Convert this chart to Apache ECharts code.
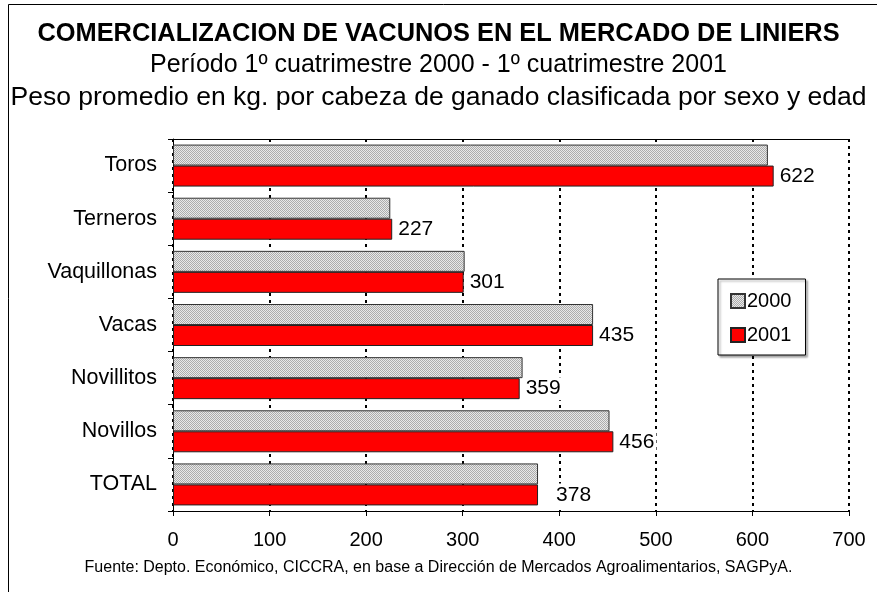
<!DOCTYPE html>
<html>
<head>
<meta charset="utf-8">
<script src="https://cdn.jsdelivr.net/npm/echarts@6/dist/echarts.min.js"></script>
<style>
html,body{margin:0;padding:0;background:#fff;}
#c{width:877px;height:592px;}
</style>
</head>
<body>
<div id="c"></div>
<script>
const categories = ['Toros','Terneros','Vaquillonas','Vacas','Novillitos','Novillos','TOTAL'];
const values2000 = [616, 225, 302, 435, 362, 452, 378];
const values2001 = [622, 227, 301, 435, 359, 456, 378];
const xTicks = [0, 100, 200, 300, 400, 500, 600, 700];
const seriesNames = ['2000', '2001'];

const titleText = 'COMERCIALIZACION DE VACUNOS EN EL MERCADO DE LINIERS';
const subtitle1 = 'Período 1º cuatrimestre 2000 - 1º cuatrimestre 2001';
const subtitle2 = 'Peso promedio en kg. por cabeza de ganado clasificada por sexo y edad';
const sourceText = 'Fuente: Depto. Económico, CICCRA, en base a Dirección de Mercados Agroalimentarios, SAGPyA.';

// hatch pattern for the 2000 series
const pc = document.createElement('canvas');
pc.width = 2; pc.height = 2;
const pctx = pc.getContext('2d');
pctx.fillStyle = '#e8e8e8'; pctx.fillRect(0,0,2,2);
pctx.fillStyle = '#acacac'; pctx.fillRect(0,0,1,1); pctx.fillRect(1,1,1,1);
const hatch = {image: pc, repeat: 'repeat'};

const FONT = '"Liberation Sans", Arial, sans-serif';
const chart = echarts.init(document.getElementById('c'), null, {renderer: 'canvas'});

const lastIdx = categories.length - 1;
const data2001 = values2001.map((v, i) => i === lastIdx ? {value: v, label: {distance: 16}} : v);

chart.setOption({
  backgroundColor: '#fff',
  animation: false,
  textStyle: {fontFamily: FONT, color: '#000'},
  title: [
    {text: titleText, left: 'center', top: 16, textStyle: {fontFamily: FONT, fontSize: 25.4, fontWeight: 'bold', color: '#000'}},
    {text: subtitle1, left: 'center', top: 48, textStyle: {fontFamily: FONT, fontSize: 25, fontWeight: 'normal', color: '#000'}},
    {text: subtitle2, left: 'center', top: 79, textStyle: {fontFamily: FONT, fontSize: 26.5, fontWeight: 'normal', color: '#000'}},
    {text: sourceText, left: 'center', top: 555, textStyle: {fontFamily: FONT, fontSize: 16, fontWeight: 'normal', color: '#000'}}
  ],
  graphic: [
    {type: 'rect', shape: {x: 8.5, y: 4.5, width: 900, height: 620}, style: {fill: 'none', stroke: '#000', lineWidth: 1}, silent: true, z: -1}
  ],
  legend: {
    data: seriesNames,
    orient: 'vertical',
    left: 718, top: 279,
    padding: [12, 14, 10, 12],
    itemWidth: 14, itemHeight: 14, itemGap: 14,
    backgroundColor: '#fff',
    borderColor: '#000', borderWidth: 1,
    shadowColor: 'rgba(0,0,0,0.35)', shadowOffsetX: 2, shadowOffsetY: 2, shadowBlur: 2,
    textStyle: {fontFamily: FONT, fontSize: 20, color: '#000', padding: [0,0,0,-3]},
    icon: 'rect'
  },
  grid: {left: 173, right: 28, top: 139, bottom: 81, containLabel: false},
  xAxis: [{
    type: 'value', min: xTicks[0], max: xTicks[xTicks.length-1], interval: 100,
    axisLine: {show: true, lineStyle: {color: '#000', width: 1}},
    axisTick: {show: true, length: 5, lineStyle: {color: '#000'}},
    axisLabel: {fontFamily: FONT, fontSize: 20, color: '#000', margin: 19},
    splitLine: {show: true, lineStyle: {color: '#000', type: [3, 4], width: 2}}
  }, {
    type: 'value', position: 'top', min: xTicks[0], max: xTicks[xTicks.length-1], interval: 100,
    axisLine: {show: true, lineStyle: {color: '#000', width: 1}},
    axisTick: {show: false}, axisLabel: {show: false}, splitLine: {show: false}
  }],
  yAxis: {
    type: 'category', data: categories, inverse: true,
    axisLine: {show: true, lineStyle: {color: '#000', width: 1}},
    axisTick: {show: true, length: 5, lineStyle: {color: '#000'}},
    axisLabel: {fontFamily: FONT, fontSize: 21.5, color: '#000', margin: 16}
  },
  series: [
    {
      name: seriesNames[0], type: 'bar', data: values2000,
      barWidth: 21, barGap: '0%',
      itemStyle: {color: hatch, borderColor: '#333', borderWidth: 1}
    },
    {
      name: seriesNames[1], type: 'bar', data: data2001,
      barWidth: 21, barGap: '0%',
      itemStyle: {color: '#ff0000', borderColor: '#222', borderWidth: 1},
      label: {show: true, position: 'right', distance: 4, fontFamily: FONT, fontSize: 21, color: '#000',
              backgroundColor: '#fff', padding: [1, 2]}
    }
  ]
});
</script>
</body>
</html>
